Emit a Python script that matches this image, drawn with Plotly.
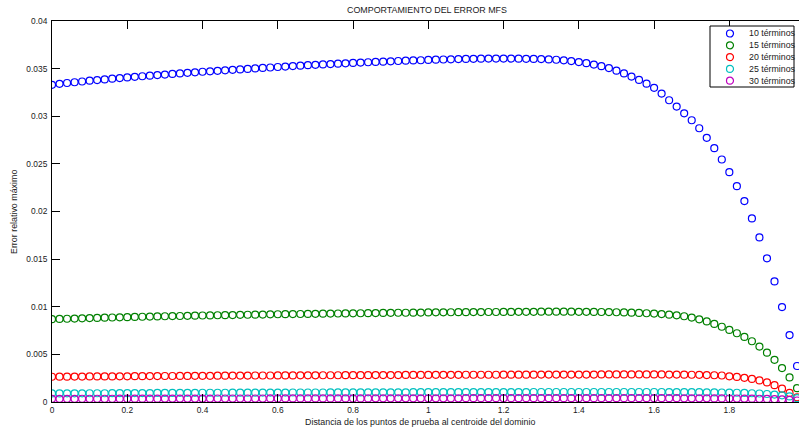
import numpy as np
import plotly.graph_objects as go

# Distance of the test points from the domain centroid (step 0.02)
distancia = np.round(np.arange(100) * 0.02, 2)

# Maximum relative error for each number of terms
err_10 = [
    0.03330, 0.03340, 0.03349, 0.03357, 0.03365, 0.03373, 0.03380, 0.03387, 0.03394, 0.03401,
    0.03408, 0.03414, 0.03420, 0.03426, 0.03432, 0.03438, 0.03444, 0.03450, 0.03456, 0.03461,
    0.03467, 0.03472, 0.03477, 0.03482, 0.03487, 0.03492, 0.03497, 0.03502, 0.03507, 0.03512,
    0.03517, 0.03522, 0.03527, 0.03531, 0.03536, 0.03540, 0.03544, 0.03548, 0.03552, 0.03556,
    0.03560, 0.03563, 0.03567, 0.03570, 0.03573, 0.03577, 0.03580, 0.03583, 0.03586, 0.03588,
    0.03591, 0.03594, 0.03596, 0.03598, 0.03600, 0.03602, 0.03603, 0.03604, 0.03605, 0.03605,
    0.03605, 0.03605, 0.03604, 0.03603, 0.03602, 0.03600, 0.03597, 0.03593, 0.03587, 0.03579,
    0.03569, 0.03557, 0.03543, 0.03526, 0.03506, 0.03478, 0.03450, 0.03417, 0.03381, 0.03342,
    0.03298, 0.03238, 0.03168, 0.03102, 0.03031, 0.02958, 0.02874, 0.02773, 0.02665, 0.02546,
    0.02413, 0.02266, 0.02109, 0.01927, 0.01728, 0.01508, 0.01266, 0.00997, 0.00703, 0.00378,
]
err_15 = [
    0.00870, 0.00872, 0.00874, 0.00876, 0.00879, 0.00881, 0.00883, 0.00885, 0.00887, 0.00889,
    0.00891, 0.00893, 0.00895, 0.00897, 0.00898, 0.00900, 0.00902, 0.00903, 0.00905, 0.00906,
    0.00908, 0.00909, 0.00911, 0.00912, 0.00913, 0.00915, 0.00916, 0.00917, 0.00918, 0.00920,
    0.00921, 0.00922, 0.00923, 0.00924, 0.00925, 0.00926, 0.00927, 0.00928, 0.00929, 0.00930,
    0.00931, 0.00932, 0.00933, 0.00934, 0.00935, 0.00936, 0.00937, 0.00937, 0.00938, 0.00939,
    0.00940, 0.00941, 0.00941, 0.00942, 0.00943, 0.00943, 0.00944, 0.00944, 0.00945, 0.00945,
    0.00946, 0.00946, 0.00947, 0.00947, 0.00947, 0.00948, 0.00948, 0.00948, 0.00948, 0.00948,
    0.00947, 0.00947, 0.00946, 0.00945, 0.00944, 0.00942, 0.00940, 0.00938, 0.00935, 0.00932,
    0.00928, 0.00923, 0.00917, 0.00910, 0.00900, 0.00886, 0.00868, 0.00846, 0.00820, 0.00790,
    0.00757, 0.00722, 0.00683, 0.00638, 0.00582, 0.00518, 0.00443, 0.00356, 0.00258, 0.00145,
]
err_20 = [
    0.00265, 0.00266, 0.00266, 0.00267, 0.00267, 0.00268, 0.00268, 0.00269, 0.00269, 0.00270,
    0.00270, 0.00271, 0.00271, 0.00272, 0.00272, 0.00273, 0.00273, 0.00274, 0.00274, 0.00275,
    0.00275, 0.00275, 0.00276, 0.00276, 0.00277, 0.00277, 0.00277, 0.00278, 0.00278, 0.00278,
    0.00279, 0.00279, 0.00279, 0.00280, 0.00280, 0.00280, 0.00281, 0.00281, 0.00281, 0.00282,
    0.00282, 0.00282, 0.00282, 0.00283, 0.00283, 0.00283, 0.00283, 0.00284, 0.00284, 0.00284,
    0.00284, 0.00285, 0.00285, 0.00285, 0.00285, 0.00286, 0.00286, 0.00286, 0.00286, 0.00286,
    0.00287, 0.00287, 0.00287, 0.00287, 0.00287, 0.00288, 0.00288, 0.00288, 0.00288, 0.00288,
    0.00288, 0.00288, 0.00288, 0.00289, 0.00289, 0.00289, 0.00289, 0.00289, 0.00289, 0.00289,
    0.00289, 0.00289, 0.00288, 0.00288, 0.00287, 0.00286, 0.00285, 0.00283, 0.00281, 0.00278,
    0.00270, 0.00263, 0.00254, 0.00242, 0.00226, 0.00205, 0.00177, 0.00140, 0.00095, 0.00050,
]
err_25 = [
    0.00090, 0.00090, 0.00091, 0.00091, 0.00091, 0.00092, 0.00092, 0.00092, 0.00093, 0.00093,
    0.00093, 0.00094, 0.00094, 0.00094, 0.00095, 0.00095, 0.00095, 0.00096, 0.00096, 0.00096,
    0.00097, 0.00097, 0.00097, 0.00097, 0.00098, 0.00098, 0.00098, 0.00098, 0.00099, 0.00099,
    0.00099, 0.00099, 0.00100, 0.00100, 0.00100, 0.00100, 0.00100, 0.00101, 0.00101, 0.00101,
    0.00101, 0.00101, 0.00102, 0.00102, 0.00102, 0.00102, 0.00102, 0.00102, 0.00103, 0.00103,
    0.00103, 0.00103, 0.00103, 0.00103, 0.00103, 0.00104, 0.00104, 0.00104, 0.00104, 0.00104,
    0.00104, 0.00104, 0.00104, 0.00104, 0.00105, 0.00105, 0.00105, 0.00105, 0.00105, 0.00105,
    0.00105, 0.00105, 0.00105, 0.00105, 0.00105, 0.00105, 0.00105, 0.00105, 0.00105, 0.00105,
    0.00105, 0.00105, 0.00104, 0.00104, 0.00104, 0.00103, 0.00103, 0.00102, 0.00101, 0.00100,
    0.00099, 0.00097, 0.00095, 0.00092, 0.00089, 0.00084, 0.00078, 0.00070, 0.00059, 0.00040,
]
err_30 = [
    0.00033, 0.00033, 0.00033, 0.00033, 0.00034, 0.00034, 0.00034, 0.00034, 0.00034, 0.00035,
    0.00035, 0.00035, 0.00035, 0.00035, 0.00035, 0.00036, 0.00036, 0.00036, 0.00036, 0.00036,
    0.00036, 0.00036, 0.00037, 0.00037, 0.00037, 0.00037, 0.00037, 0.00037, 0.00037, 0.00038,
    0.00038, 0.00038, 0.00038, 0.00038, 0.00038, 0.00038, 0.00038, 0.00038, 0.00038, 0.00038,
    0.00038, 0.00038, 0.00038, 0.00039, 0.00039, 0.00039, 0.00039, 0.00039, 0.00039, 0.00039,
    0.00039, 0.00039, 0.00039, 0.00039, 0.00039, 0.00040, 0.00040, 0.00040, 0.00040, 0.00040,
    0.00040, 0.00040, 0.00040, 0.00040, 0.00040, 0.00040, 0.00040, 0.00040, 0.00040, 0.00040,
    0.00040, 0.00040, 0.00040, 0.00040, 0.00040, 0.00040, 0.00040, 0.00040, 0.00040, 0.00040,
    0.00040, 0.00040, 0.00040, 0.00040, 0.00039, 0.00039, 0.00039, 0.00039, 0.00038, 0.00038,
    0.00037, 0.00037, 0.00036, 0.00035, 0.00034, 0.00032, 0.00030, 0.00027, 0.00023, 0.00016,
]

series_names = ["10 términos", "15 términos", "20 términos", "25 términos", "30 términos"]
series_values = [err_10, err_15, err_20, err_25, err_30]
series_colors = ["#0000ff", "#008000", "#ff0000", "#00bfbf", "#bf00bf"]

x_ticks = [0, 0.2, 0.4, 0.6, 0.8, 1.0, 1.2, 1.4, 1.6, 1.8, 2.0]
x_tick_text = ["0", "0.2", "0.4", "0.6", "0.8", "1", "1.2", "1.4", "1.6", "1.8", "2"]
y_ticks = [0, 0.005, 0.01, 0.015, 0.02, 0.025, 0.03, 0.035, 0.04]
y_tick_text = ["0", "0.005", "0.01", "0.015", "0.02", "0.025", "0.03", "0.035", "0.04"]

# Figure geometry (pixels)
W, H = 799, 430
ML, MT, MB = 52, 21, 28
PW = W - ML
PH = H - MT - MB
X_MAX = PW / 376.3  # the axes box runs a few pixels past the right border

FONT = "Liberation Sans, Arial, Helvetica, sans-serif"
TXT = "#1a1a1a"
LABEL_SIZE = 8.9
TICK_SIZE = 8.4


def px_to_paper_x(px):
    return (px - ML) / PW


def px_to_paper_y(py):
    return (H - MB - py) / PH


fig = go.Figure()
for name, vals, col in zip(series_names, series_values, series_colors):
    fig.add_trace(go.Scatter(
        x=distancia, y=vals, mode="markers", name=name, showlegend=False,
        marker=dict(symbol="circle-open", size=7, color=col, line=dict(width=1.2, color=col)),
    ))

shapes = []
annotations = []

# Legend box drawn by hand (MATLAB-style compact legend)
shapes.append(dict(type="rect", xref="paper", yref="paper",
                   x0=px_to_paper_x(710), x1=px_to_paper_x(794),
                   y0=px_to_paper_y(87), y1=px_to_paper_y(26),
                   line=dict(color="black", width=1), fillcolor="white", layer="above"))
for k, (name, col) in enumerate(zip(series_names, series_colors)):
    row_y = px_to_paper_y(33.5 + k * 11.8)
    shapes.append(dict(type="circle", xref="paper", yref="paper",
                       xsizemode="pixel", ysizemode="pixel",
                       xanchor=px_to_paper_x(730), yanchor=row_y,
                       x0=-3.5, x1=3.5, y0=-3.5, y1=3.5,
                       line=dict(color=col, width=1.2), layer="above"))
    annotations.append(dict(text=name, xref="paper", yref="paper",
                            x=px_to_paper_x(747), y=row_y, xanchor="left", yanchor="middle",
                            showarrow=False, font=dict(family=FONT, size=8.8, color=TXT)))

# Title and axis labels
annotations.append(dict(text="COMPORTAMIENTO DEL ERROR MFS", xref="paper", yref="paper",
                        x=px_to_paper_x(427), y=px_to_paper_y(10), xanchor="center", yanchor="middle",
                        showarrow=False, font=dict(family=FONT, size=LABEL_SIZE, color=TXT)))
annotations.append(dict(text="Distancia de los puntos de prueba al centroide del dominio",
                        xref="paper", yref="paper",
                        x=px_to_paper_x(420), y=px_to_paper_y(422), xanchor="center", yanchor="middle",
                        showarrow=False, font=dict(family=FONT, size=LABEL_SIZE, color=TXT)))
annotations.append(dict(text="Error relativo máximo", xref="paper", yref="paper",
                        x=px_to_paper_x(14), y=px_to_paper_y(212), xanchor="center", yanchor="middle",
                        textangle=-90, showarrow=False, font=dict(family=FONT, size=LABEL_SIZE, color=TXT)))

fig.update_layout(
    width=W, height=H,
    margin=dict(l=ML, r=0, t=MT, b=MB, pad=0),
    paper_bgcolor="white", plot_bgcolor="white",
    showlegend=False,
    shapes=shapes, annotations=annotations,
    font=dict(family=FONT, size=TICK_SIZE, color=TXT),
    xaxis=dict(range=[0, X_MAX], tickvals=x_ticks, ticktext=x_tick_text,
               ticks="inside", ticklen=8, tickwidth=1, tickcolor="black",
               showline=True, linecolor="black", linewidth=1, mirror="ticks",
               showgrid=False, zeroline=False,
               tickfont=dict(family=FONT, size=TICK_SIZE, color=TXT)),
    yaxis=dict(range=[0, 0.04], tickvals=y_ticks, ticktext=y_tick_text,
               ticks="inside", ticklen=8, tickwidth=1, tickcolor="black",
               showline=True, linecolor="black", linewidth=1, mirror=False,
               showgrid=False, zeroline=False, ticklabelstandoff=2,
               tickfont=dict(family=FONT, size=TICK_SIZE, color=TXT)),
    yaxis2=dict(range=[0, 0.04], tickvals=y_ticks, showticklabels=False,
                overlaying="y", side="right", anchor="x",
                ticks="inside", ticklen=2, tickwidth=1, tickcolor="black",
                showline=False, showgrid=False, zeroline=False),
)

fig.write_html("out.html")
